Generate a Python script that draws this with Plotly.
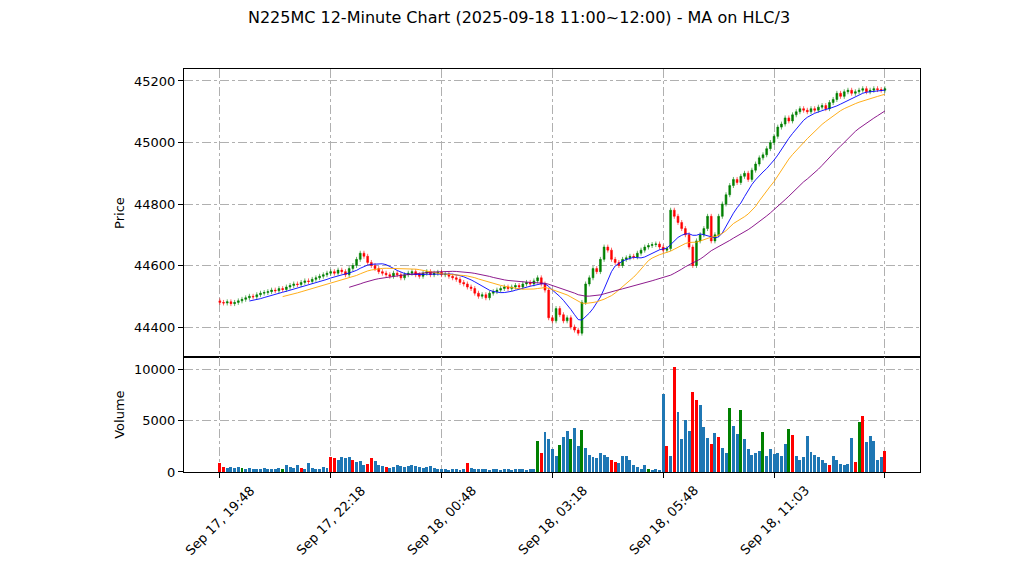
import plotly.graph_objects as go
import numpy as np

closes = [44480,44478,44482,44476,44480,44485,44490,44495,44500,44498,
44505,44510,44512,44515,44520,44518,44525,44522,44530,44535,
44540,44538,44545,44550,44548,44555,44560,44565,44570,44575,
44580,44575,44585,44580,44570,44590,44600,44620,44640,44630,
44610,44600,44590,44580,44575,44570,44565,44575,44570,44560,
44570,44575,44580,44570,44565,44575,44580,44570,44575,44578,
44570,44572,44565,44560,44555,44545,44540,44530,44525,44510,
44500,44505,44495,44510,44515,44520,44525,44530,44525,44530,
44535,44530,44540,44545,44540,44550,44560,44540,44520,44430,
44420,44460,44440,44420,44430,44400,44390,44380,44480,44540,
44560,44590,44580,44620,44660,44650,44620,44610,44600,44620,
44625,44630,44628,44640,44650,44660,44665,44668,44670,44660,
44650,44655,44780,44760,44740,44720,44700,44660,44600,44680,
44700,44720,44760,44680,44700,44760,44800,44830,44860,44880,
44870,44890,44900,44880,44910,44930,44950,44960,44980,45000,
45020,45050,45060,45080,45070,45090,45100,45110,45105,45100,
45110,45105,45115,45120,45110,45130,45140,45160,45150,45165,
45170,45160,45165,45170,45175,45165,45170,45175,45172,45170,45175]
first_open = 44485
wick = 8

volumes = [900,500,400,450,350,500,400,300,350,300,
300,250,400,300,250,300,350,300,700,500,
400,700,400,300,900,400,300,250,500,400,
1400,1300,1200,1400,1300,1400,1200,1000,1100,700,
800,1300,1100,700,600,500,400,500,700,600,
500,600,700,600,500,400,500,600,400,300,
300,250,200,300,250,200,300,900,400,300,
250,300,250,200,300,250,200,250,300,200,
250,300,250,200,300,250,3000,1800,3900,3200,
2200,1500,2600,3400,4000,3200,4300,2500,4100,2300,
1600,1400,1300,1800,1600,1400,1200,1000,900,1500,
1500,1200,700,500,300,700,300,200,300,200,
7600,2500,1500,10200,5800,3200,5000,4000,7800,7000,
6500,4400,3300,2700,3800,3400,2300,1800,6200,4500,
3700,6000,3200,2200,1600,1800,2000,3900,1500,2200,
1700,1800,1500,2700,4200,3600,1500,1200,1400,3500,
1900,1600,1400,1200,900,700,1500,1200,800,700,
800,3300,1000,4800,5400,2900,3500,3000,1200,1400,2000]
vol_codes = ("rrbbbbgbbb" "bbbbbbbgbb" "bbrbbbbbbb" "rrbbbbrbbb" "rrbbbrbbbb"
             "bbbbbbbbbb" "bbbbbbbrbb" "bbbbbbbbbb" "bbbbbbgrbb" "bbgbbgbbgb"
             "bbbbbbrrbb" "bbbbbbgbbb" "brbrbbbbrr" "bbbrbrbbgb" "bgbbbbbgbb"
             "bbbbgrbbbb" "bbbbbrbbbb" "bbrgrbbbbb" "r")
ma_windows = [9, 18, 36]
ma_colors = ["blue", "orange", "purple"]
tick_idx = [0, 30, 60, 90, 120, 150, 180]
tick_labels = ["Sep 17, 19:48", "Sep 17, 22:18", "Sep 18, 00:48", "Sep 18, 03:18",
               "Sep 18, 05:48", "Sep 18, 11:03", ""]

n = len(closes)
x = list(range(n))
opens = [first_open] + closes[:-1]
highs = [max(o, c) + wick for o, c in zip(opens, closes)]
lows = [min(o, c) - wick for o, c in zip(opens, closes)]
hlc3 = (np.array(highs) + np.array(lows) + np.array(closes)) / 3

cmap = {"r": "red", "g": "green", "b": "#1f77b4"}
vcols = [cmap[vol_codes[i]] if i < len(vol_codes) else "#1f77b4" for i in range(n)]

fig = go.Figure()
fig.add_trace(go.Candlestick(x=x, open=opens, high=highs, low=lows, close=closes,
    increasing=dict(line=dict(color="green", width=0.6), fillcolor="green"),
    decreasing=dict(line=dict(color="red", width=0.6), fillcolor="red"),
    whiskerwidth=0, showlegend=False, xaxis="x", yaxis="y"))
for w, c in zip(ma_windows, ma_colors):
    ma = [None] * (w - 1) + list(np.convolve(hlc3, np.ones(w) / w, mode="valid"))
    fig.add_trace(go.Scatter(x=x, y=ma, mode="lines", line=dict(color=c, width=0.9),
                             showlegend=False, xaxis="x", yaxis="y"))
fig.add_trace(go.Bar(x=x, y=volumes[:n], marker=dict(color=vcols, line=dict(width=0)),
                     width=0.8, showlegend=False, xaxis="x2", yaxis="y2"))

grid = dict(showgrid=True, gridcolor="#b0b0b0", griddash="dashdot", gridwidth=1,
            showline=True, linecolor="black", mirror=True, ticks="outside",
            tickcolor="black", zeroline=False, automargin=False,
            tickfont=dict(size=13, color="black"))
xr = [-9.7, 189.5]
annots = [dict(text=t, xref="x2", yref="paper", x=i, y=0, yshift=-48, xanchor="center",
               yanchor="middle", textangle=-45, showarrow=False, font=dict(size=13))
          for i, t in zip(tick_idx, tick_labels) if t]
fig.update_layout(
    width=1022, height=575, plot_bgcolor="white", paper_bgcolor="white",
    font=dict(family="DejaVu Sans", color="black"),
    margin=dict(l=176, r=110, t=61, b=111, autoexpand=False),
    title=dict(text="N225MC 12-Minute Chart (2025-09-18 11:00~12:00) - MA on HLC/3",
               x=0.5, xanchor="center", y=0.983, yanchor="middle", font=dict(size=16)),
    annotations=annots,
    xaxis=dict(grid, range=xr, domain=[0, 1], anchor="y", tickvals=tick_idx,
               showticklabels=False, rangeslider=dict(visible=False)),
    yaxis=dict(grid, domain=[0.285, 1], range=[44302, 45239], tickvals=[44400, 44600, 44800, 45000, 45200],
               tickformat="d", title=dict(text="Price", font=dict(size=13), standoff=6)),
    xaxis2=dict(grid, range=xr, domain=[0, 1], anchor="y2", tickvals=tick_idx,
                showticklabels=False),
    yaxis2=dict(grid, domain=[0, 0.285], range=[0, 11165], tickvals=[0, 5000, 10000],
                tickformat="d", title=dict(text="Volume", font=dict(size=13), standoff=6)),
    bargap=0,
)
fig.write_html("out.html")
